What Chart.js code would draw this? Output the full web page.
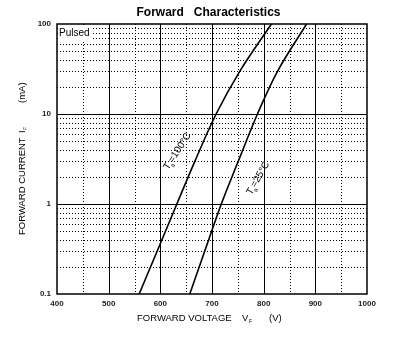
<!DOCTYPE html>
<html>
<head>
<meta charset="utf-8">
<script src="https://cdn.jsdelivr.net/npm/chart.js@4/dist/chart.umd.min.js"></script>
<style>
html,body{margin:0;padding:0;background:#fff;}
#wrap{width:399px;height:337px;}
</style>
</head>
<body>
<div id="wrap"><canvas id="c" width="399" height="337"></canvas></div>
<script>
// ---- data ----
const currents = [0.1, 0.3, 1, 3, 10, 30, 100];           // IF (mA)
const vfTa100 = [559, 594, 632, 667, 708, 754, 815];      // VF (V) at Ta=100°C
const vfTa25  = [657, 686, 718, 751, 788, 827, 883];      // VF (V) at Ta=25°C
const xTickValues = [400, 500, 600, 700, 800, 900, 1000];
const yTickValues = [0.1, 1, 10, 100];
const yTickLabels = ['0.1', '1', '10', '100'];

const toPts = (vs) => vs.map((v, i) => ({x: v, y: currents[i]}));

const FONT = '"Liberation Sans", Arial, sans-serif';

const gridPlugin = {
  id: 'grid',
  beforeDatasetsDraw(chart) {
    const {ctx, chartArea: a, scales: {x, y}} = chart;
    ctx.save();
    ctx.beginPath();
    ctx.rect(a.left, a.top, a.right - a.left, a.bottom - a.top);
    ctx.clip();
    ctx.strokeStyle = '#000';
    ctx.lineWidth = 1;
    // dotted minor lines
    ctx.setLineDash([1, 2]);
    ctx.beginPath();
    for (let v = 450; v < 1000; v += 100) {
      const px = Math.round(x.getPixelForValue(v)) + 0.5;
      ctx.moveTo(px, a.top); ctx.lineTo(px, a.bottom);
    }
    for (let d of [0.1, 1, 10]) {
      for (let k = 2; k <= 9; k++) {
        const py = Math.round(y.getPixelForValue(d * k)) + 0.5;
        ctx.moveTo(a.left, py); ctx.lineTo(a.right, py);
      }
    }
    ctx.stroke();
    // solid major lines
    ctx.setLineDash([]);
    ctx.beginPath();
    for (let v = 500; v < 1000; v += 100) {
      const px = Math.round(x.getPixelForValue(v)) + 0.5;
      ctx.moveTo(px, a.top); ctx.lineTo(px, a.bottom);
    }
    for (let v of [1, 10]) {
      const py = Math.round(y.getPixelForValue(v)) + 0.5;
      ctx.moveTo(a.left, py); ctx.lineTo(a.right, py);
    }
    ctx.stroke();
    ctx.restore();

    // "Pulsed" label with white background
    ctx.save();
    ctx.font = '10px ' + FONT;
    ctx.textBaseline = 'middle';
    const w = ctx.measureText('Pulsed').width;
    ctx.fillStyle = '#fff';
    ctx.fillRect(a.left + 1, a.top + 2, w + 3, 14);
    ctx.fillStyle = '#000';
    ctx.fillText('Pulsed', a.left + 2, a.top + 9);
    ctx.restore();
  },
  afterDatasetsDraw(chart) {
    const {ctx, chartArea: a} = chart;
    ctx.save();
    // border
    ctx.strokeStyle = '#000';
    ctx.lineWidth = 1.5;
    ctx.strokeRect(a.left, a.top, a.right - a.left, a.bottom - a.top);
    ctx.restore();

    // rotated curve labels
    const drawTa = (x0, y0, ang, rest) => {
      ctx.save();
      ctx.translate(x0, y0);
      ctx.rotate(ang * Math.PI / 180);
      ctx.fillStyle = '#000';
      ctx.textBaseline = 'middle';
      ctx.font = '10px ' + FONT;
      ctx.fillText('T', 0, 0);
      let off = ctx.measureText('T').width;
      ctx.font = '6px ' + FONT;
      ctx.fillText('a', off - 1, 4);
      off += ctx.measureText('a').width - 1;
      ctx.font = '10px ' + FONT;
      ctx.fillText(rest, off, 0);
      ctx.restore();
    };
    drawTa(166, 169, -57, '=100°C');
    drawTa(249, 194, -60, '=25°C');

    // title
    ctx.save();
    ctx.fillStyle = '#000';
    ctx.textBaseline = 'middle';
    ctx.textAlign = 'center';
    ctx.font = 'bold 12px ' + FONT;
    ctx.fillText('Forward   Characteristics', 208.5, 13);
    ctx.restore();

    // x axis title
    ctx.save();
    ctx.fillStyle = '#000';
    ctx.textBaseline = 'middle';
    ctx.font = '9.5px ' + FONT;
    ctx.fillText('FORWARD VOLTAGE', 137, 318);
    ctx.fillText('V', 242, 318);
    ctx.fillText('(V)', 269, 318);
    ctx.font = '5px ' + FONT;
    ctx.fillText('F', 249, 322);
    ctx.restore();

    // y axis title
    ctx.save();
    ctx.translate(22, 235);
    ctx.rotate(-Math.PI / 2);
    ctx.fillStyle = '#000';
    ctx.textBaseline = 'middle';
    ctx.font = '9.5px ' + FONT;
    ctx.fillText('FORWARD CURRENT', 0, 0);
    ctx.fillText('I', 102, 0);
    ctx.fillText('(mA)', 132, 0);
    ctx.font = '5px ' + FONT;
    ctx.fillText('F', 105, 4);
    ctx.restore();
  }
};

new Chart(document.getElementById('c'), {
  type: 'line',
  data: {
    datasets: [
      {label: 'Ta=100°C', data: toPts(vfTa100), borderColor: '#000', borderWidth: 1.6,
       pointRadius: 0, tension: 0.35, fill: false},
      {label: 'Ta=25°C', data: toPts(vfTa25), borderColor: '#000', borderWidth: 1.6,
       pointRadius: 0, tension: 0.35, fill: false}
    ]
  },
  options: {
    responsive: false,
    animation: false,
    devicePixelRatio: 1,
    layout: {padding: {left: 0, right: 32, top: 24, bottom: 0}},
    plugins: {legend: {display: false}, title: {display: false}, tooltip: {enabled: false}},
    scales: {
      x: {
        type: 'linear', min: 400, max: 1000,
        afterBuildTicks: (s) => { s.ticks = xTickValues.map(v => ({value: v})); },
        afterFit: (s) => { s.height = 43; },
        grid: {display: false, drawTicks: false},
        border: {display: false},
        ticks: {color: '#222', font: {family: FONT, size: 8, weight: 'bold'}, padding: 5, maxRotation: 0,
                callback: (v) => String(v)}
      },
      y: {
        type: 'logarithmic', min: 0.1, max: 100,
        afterBuildTicks: (s) => { s.ticks = yTickValues.map(v => ({value: v})); },
        afterFit: (s) => { s.width = 57; },
        grid: {display: false, drawTicks: false},
        border: {display: false},
        ticks: {color: '#222', font: {family: FONT, size: 8, weight: 'bold'}, padding: 6,
                callback: (v) => { const i = yTickValues.indexOf(v); return i >= 0 ? yTickLabels[i] : ''; }}
      }
    }
  },
  plugins: [gridPlugin]
});
</script>
</body>
</html>
